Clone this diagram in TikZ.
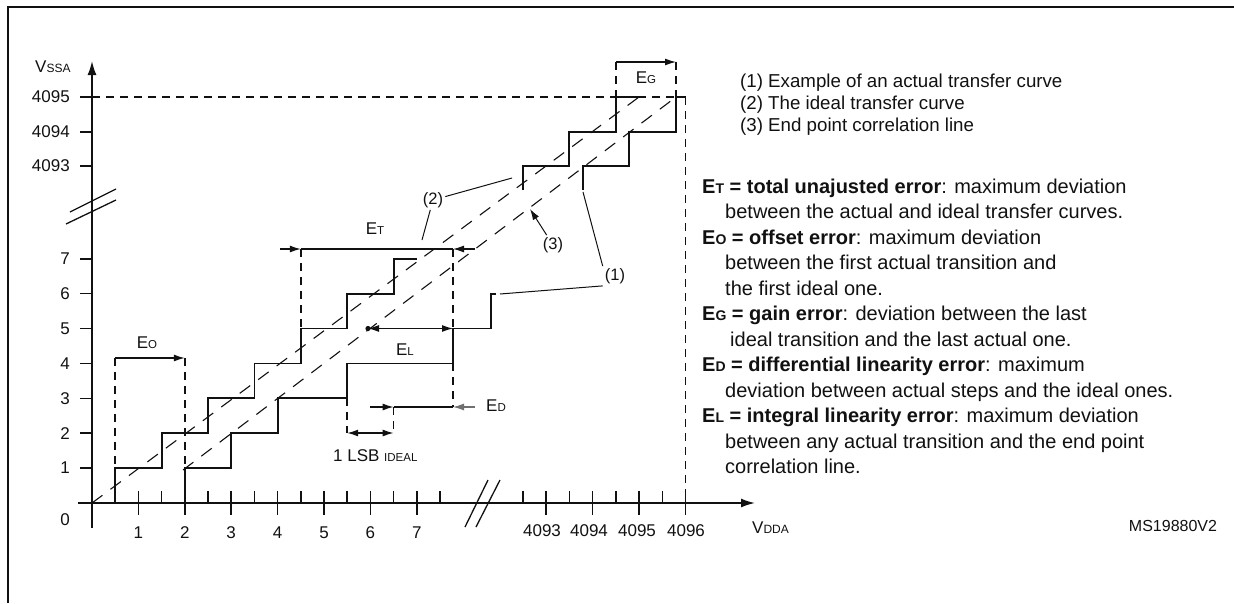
\documentclass[tikz,border=0pt]{standalone}
\usepackage{fontspec}
\setmainfont{Liberation Sans}
\usetikzlibrary{arrows.meta, positioning}
\definecolor{mink}{HTML}{111111}
\definecolor{mgray}{HTML}{6F6F6F}
\newcommand{\lowcap}[2]{{\fontsize{#1}{#1}\selectfont #2}}
\tikzstyle{frame} = [line width=2pt, mink]
\tikzstyle{axis} = [line width=1.6pt, mink, -{Latex[length=14pt, width=9pt]}]
\tikzstyle{tick} = [line width=1.6pt, mink]
\tikzstyle{stair} = [line width=1.8pt, mink]
\tikzstyle{guide} = [line width=1.5pt, mink, dash pattern=on 8pt off 6pt]
\tikzstyle{slope} = [line width=1.1pt, mink, dash pattern=on 13pt off 10pt]
\tikzstyle{dim} = [line width=1.2pt, mink, -{Latex[length=11pt, width=7pt]}]
\tikzstyle{dimboth} = [line width=1.2pt, mink, {Latex[length=11pt, width=7pt]}-{Latex[length=11pt, width=7pt]}]
\tikzstyle{leader} = [line width=1pt, mink]
\tikzstyle{num} = [font=\fontsize{17}{17}\selectfont, text=mink, inner sep=0pt]
\tikzstyle{tag} = [font=\fontsize{16.5}{16.5}\selectfont, text=mink, inner sep=2pt]
\tikzstyle{note} = [font=\fontsize{20}{25.5}\selectfont, text=mink, align=left, inner sep=0pt, anchor=north west]

\begin{document}
\begin{tikzpicture}[x=1pt, y=-1pt]
\useasboundingbox (0,0) rectangle (1234,603);
\draw[frame] (8,603) -- (8,7) -- (1234,7);

% axes
\coordinate (xfrom) at (78,503);
\coordinate (xto) at (755,503);
\coordinate (yfrom) at (92,528);
\coordinate (yto) at (92,61);
\draw[axis] (xfrom) -- (xto);
\draw[axis] (yfrom) -- (yto);
\node (vssa) [num, anchor=base west] at (35,72) {V\lowcap{12}{SSA}};
\node (vdda) [num, anchor=west] at (752,528) {V\lowcap{12}{DDA}};
\node (zero) [num] at (65,520) {0};

% ticks and scale
\foreach \v/\y in {1/468.1,2/433.2,3/398.3,4/363.4,5/328.5,6/293.6,7/258.7,4093/166,4094/132,4095/97}{
  \draw[tick] (80,\y) -- (92,\y);
  \node (ylab\v) [num, anchor=east] at (70,\y) {\v};
}
\foreach \v/\x in {1/138.4,2/184.8,3/231.2,4/277.6,5/324,6/370.4,7/416.8}{
  \draw[tick] (\x,491) -- (\x,515);
  \node (xlab\v) [num] at (\x,533) {\v};
}
\foreach \v/\x/\t in {4093/542/546,4094/589/592.5,4095/637/639,4096/686/685.5}{
  \draw[tick] (\t,491) -- (\t,515);
  \node (xlab\v) [num] at (\x,531) {\v};
}
\foreach \x in {115.2,161.6,208,254.4,300.8,347.2,393.6,440,522.8,569.3,615.8,662.3}
  \draw[tick] (\x,491) -- (\x,503);

% break marks
\draw[leader, line width=1.3pt] (70,212) -- (116,189) (66,224) -- (116,200);
\draw[leader, line width=1.3pt] (465,527) -- (488,480) (476,527) -- (500,480);

% full scale
\draw[guide, line width=1.4pt] (92,97) -- (676,97);
\draw[guide] (685.5,97) -- (685.5,503);

% ideal line and end point correlation line
\draw[slope] (92,503) -- (639,97);
\draw[slope] (183,470) -- (676,97);

% ideal transfer curve
\draw[stair] (115.2,503) -- (115.2,468.1) -- (161.6,468.1) -- (161.6,433.2) -- (208,433.2) -- (208,398.3)
  -- (254.4,398.3) -- (254.4,363.4) -- (300.8,363.4) -- (300.8,328.5) -- (347.2,328.5) -- (347.2,293.6)
  -- (393.6,293.6) -- (393.6,258.7) -- (416.8,258.7);
\draw[stair] (522.8,190) -- (522.8,166) -- (569.3,166) -- (569.3,132) -- (615.8,132) -- (615.8,97) -- (639,97);

% actual transfer curve
\draw[stair] (184.8,503) -- (184.8,468.1) -- (231.2,468.1) -- (231.2,433.2) -- (277.6,433.2) -- (277.6,398.3)
  -- (347.2,398.3) -- (347.2,363.4) -- (453,363.4) -- (453,328.5) -- (491,328.5) -- (491,293.6) -- (496,293.6);
\draw[stair] (583,190) -- (583,166) -- (629,166) -- (629,132) -- (676,132) -- (676,97) -- (685.5,97);

% offset error
\draw[guide] (115.2,358) -- (115.2,468.1);
\draw[guide] (184.8,358) -- (184.8,468.1);
\draw[dim] (115.2,358) -- (184.8,358);
\node (eo) [num] at (147,343) {E\lowcap{11.5}{O}};

% total unadjusted error
\coordinate (etin) at (280,249);
\coordinate (etleft) at (300.8,249);
\coordinate (etright) at (453,249);
\coordinate (etout) at (475,249);
\draw[guide] (etleft) -- (300.8,328.5);
\draw[guide] (etright) -- (453,328.5);
\draw[guide] (453,363.4) -- (453,407);
\draw[dim] (etin) -- (etleft);
\draw[stair] (etleft) -- (etright);
\draw[dim] (etout) -- (etright);
\node (et) [num] at (375,229) {E\lowcap{11.5}{T}};

% integral linearity error
\coordinate (elleft) at (368,328.5);
\coordinate (elright) at (453,328.5);
\fill[mink] (elleft) circle (2.6);
\draw[dimboth] (elleft) -- (elright);
\node (el) [num] at (405,350) {E\lowcap{11.5}{L}};

% differential linearity error
\draw[dim] (370,407) -- (393.6,407);
\draw[tick, line width=1.2pt] (393.6,407) -- (453,407);
\draw[dim, mgray] (475,407) -- (453,407);
\node (ed) [num] at (496,406) {E\lowcap{11.5}{D}};

% one ideal LSB
\draw[guide] (347.2,398.3) -- (347.2,433);
\draw[guide] (393.6,407) -- (393.6,433);
\draw[dimboth] (347.2,433) -- (393.6,433);
\node (lsb) [num, anchor=west] at (333,456) {1 LSB \lowcap{11.5}{IDEAL}};

% gain error
\draw[guide] (615.8,62) -- (615.8,97);
\draw[guide] (676,62) -- (676,97);
\draw[dim] (615.8,62) -- (676,62);
\node (eg) [num] at (646,78) {E\lowcap{11.5}{G}};

% curve tags
\node (tag2) [tag] at (433,200) {(2)};
\node (tag3) [tag] at (553,245) {(3)};
\node (tag1) [tag] at (615,276) {(1)};
\draw[leader] (tag2) -- (512,178);
\draw[leader] (tag2) -- (422,240);
\draw[leader, -{Latex[length=11pt, width=7pt]}] (tag3) -- (530,209);
\draw[leader] (tag1.north west) -- (583,192);
\draw[leader] (tag1.south west) -- (500,294);

% legend
\node (legend) [note, font=\fontsize{18.7}{22}\selectfont] at (740,74)
  {(1) Example of an actual transfer curve\\
   (2) The ideal transfer curve\\
   (3) End point correlation line};

% error definitions
\node (errors) [note] at (702,178.7)
  {\textbf{E\lowcap{14}{T} = total unajusted error}: maximum deviation\\
   \hspace*{23pt}between the actual and ideal transfer curves.\\
   \textbf{E\lowcap{14}{O} = offset error}: maximum deviation\\
   \hspace*{23pt}between the first actual transition and\\
   \hspace*{23pt}the first ideal one.\\
   \textbf{E\lowcap{14}{G} = gain error}: deviation between the last\\
   \hspace*{28pt}ideal transition and the last actual one.\\
   \textbf{E\lowcap{14}{D} = differential linearity error}: maximum\\
   \hspace*{23pt}deviation between actual steps and the ideal ones.\\
   \textbf{E\lowcap{14}{L} = integral linearity error}: maximum deviation\\
   \hspace*{23pt}between any actual transition and the end point\\
   \hspace*{23pt}correlation line.};

\node (code) [num, font=\fontsize{16}{16}\selectfont] at (1173,526) {MS19880V2};
\end{tikzpicture}
\end{document}
